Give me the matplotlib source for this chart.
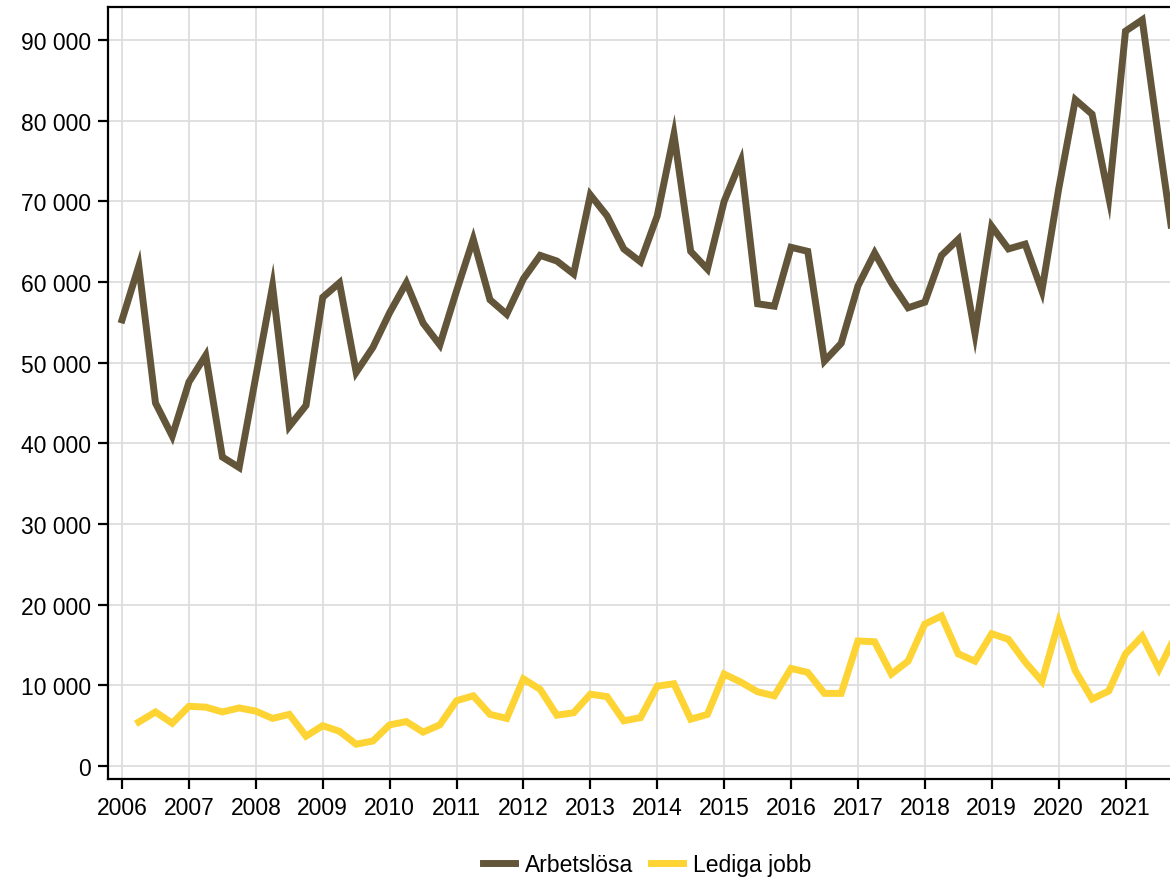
import matplotlib
matplotlib.use("Agg")
import matplotlib.pyplot as plt
from matplotlib.ticker import FuncFormatter, MultipleLocator
import numpy as np

plt.rcParams['font.family'] = ['Liberation Sans', 'DejaVu Sans']

# Quarterly data, 2006 Q1 onwards
start_year = 2006
arbetslosa = [55300, 62000, 45000, 40900, 47600, 50900, 38300, 37000,
              48300, 59500, 42100, 44700, 58100, 59900, 48800, 51900,
              56200, 59900, 54900, 52200, 58900, 65300, 57800, 56000,
              60400, 63300, 62600, 61000, 70800, 68200, 64100, 62500,
              68200, 78300, 63800, 61600, 70000, 75000, 57300, 57000,
              64300, 63800, 50200, 52400, 59500, 63600, 59900, 56800,
              57500, 63300, 65300, 53600, 66900, 64100, 64700, 58900,
              71500, 82600, 80800, 70500, 91100, 92500, 77500, 63000]
# Lediga jobb starts 2006 Q2
lediga_jobb = [5450, 6700, 5300, 7400, 7300, 6700, 7200, 6800,
               5900, 6400, 3700, 5000, 4300, 2700, 3100, 5100,
               5500, 4200, 5100, 8100, 8700, 6400, 5900, 10800,
               9500, 6300, 6600, 8900, 8600, 5600, 6000, 9900,
               10200, 5800, 6400, 11400, 10400, 9200, 8700, 12100,
               11600, 9000, 9000, 15500, 15400, 11400, 13000, 17600,
               18600, 13900, 13000, 16400, 15700, 12900, 10500, 17800,
               11800, 8300, 9300, 13900, 16100, 12000, 16200]
year_ticks = list(range(2006, 2022))
series_names = ["Arbetslösa", "Lediga jobb"]
colors = ["#625539", "#fdd433"]

x_a = start_year + np.arange(len(arbetslosa)) / 4.0
x_l = start_year + 0.25 + np.arange(len(lediga_jobb)) / 4.0

fig = plt.figure(figsize=(11.7, 8.79), dpi=100)
ax = fig.add_axes([108/1170, (879-780)/879, 1 - 108/1170, (780-8)/879])

ax.plot(x_a, arbetslosa, color=colors[0], lw=5, label=series_names[0],
        solid_joinstyle='miter', zorder=3)
ax.plot(x_l, lediga_jobb, color=colors[1], lw=5, label=series_names[1],
        solid_joinstyle='miter', zorder=3)

ax.set_xlim(2005.79, 2021.665)
ax.set_ylim(-1611, 94090)
ax.set_xticks(year_ticks)
ax.set_xticklabels([str(y) for y in year_ticks])
ax.yaxis.set_major_locator(MultipleLocator(10000))
ax.yaxis.set_major_formatter(FuncFormatter(lambda v, p: f"{int(v):,}".replace(",", " ")))

ax.grid(True, color="#dddddd", lw=1.3, zorder=0)
ax.set_axisbelow(True)
for s in ['left', 'bottom', 'top']:
    ax.spines[s].set_linewidth(1.6)
    ax.spines[s].set_color('black')
ax.spines['right'].set_visible(False)
ax.tick_params(axis='both', direction='out', length=7, width=1.6,
               labelsize=16.5, colors='black', pad=5)

fig.legend(loc='center', bbox_to_anchor=(647/1170, 1 - 866/879), ncol=2,
           frameon=False, fontsize=16.5, handlelength=1.4, columnspacing=0.75,
           handletextpad=0.45)

fig.savefig("out.png", dpi=100)
